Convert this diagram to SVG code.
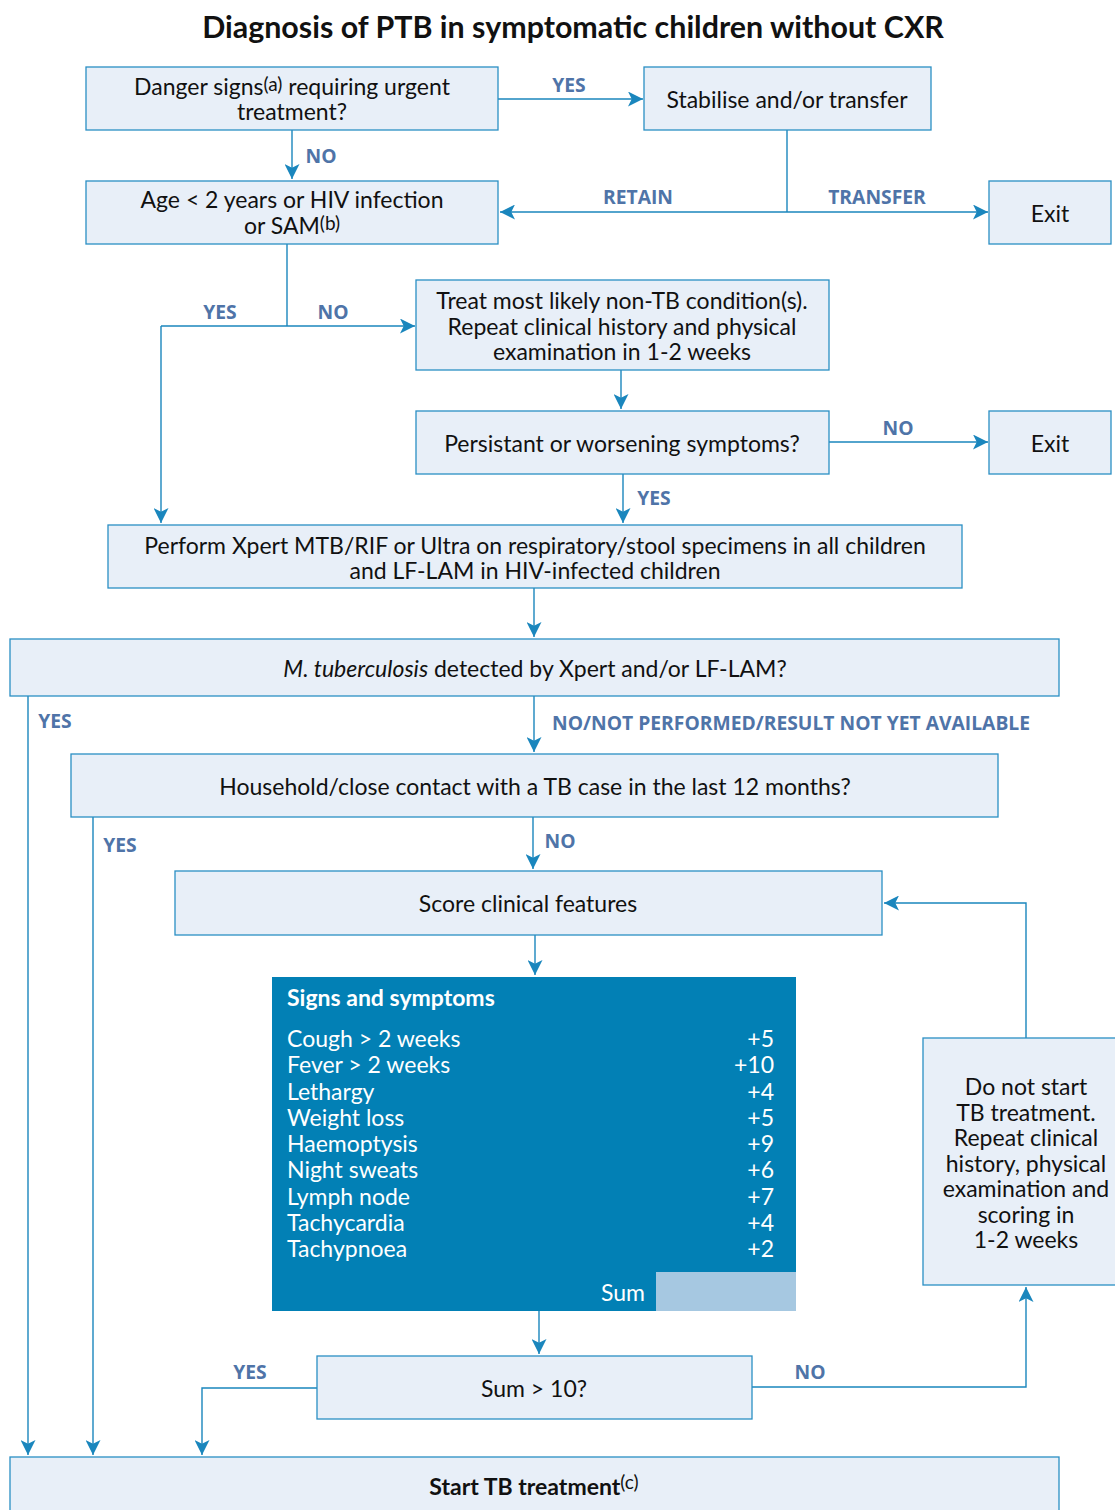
<svg xmlns="http://www.w3.org/2000/svg" width="1115" height="1510" viewBox="0 0 1115 1510">
  <defs>
    <marker id="arr" viewBox="0 0 10 10" refX="10" refY="5" markerWidth="15" markerHeight="15" markerUnits="userSpaceOnUse" orient="auto">
      <path d="M0,0 L10,5 L0,10 L2.5,5 Z" fill="#1a86bd"/>
    </marker>
    <style>
      .box { fill: #e8eff8; stroke: #2a8fc4; stroke-width: 1.3; }
      .t { font-family: Lato, "Open Sans", sans-serif; font-size: 23px; fill: #111; text-anchor: middle; }
      .lbl { font-family: "Open Sans", Lato, sans-serif; font-weight: bold; font-size: 19.3px; fill: #4f74a8; }
      .sup { font-size: 19px; }
      .w { font-family: Lato, "Open Sans", sans-serif; font-size: 23px; fill: #fff; }
      .c { fill: none; stroke: #1a86bd; stroke-width: 1.4; }
      .ca { fill: none; stroke: #1a86bd; stroke-width: 1.4; marker-end: url(#arr); }
    </style>
  </defs>
  <rect width="1115" height="1510" fill="#fff"/>

  <text x="573" y="38" font-family="Lato, 'Open Sans', sans-serif" font-weight="bold" font-size="30.4" text-anchor="middle" fill="#111">Diagnosis of PTB in symptomatic children without CXR</text>

  <!-- connectors -->
  <g id="connectors">
    <path class="ca" d="M498,99 H643"/>
    <path class="ca" d="M292,130 V179"/>
    <path class="c" d="M787,130 V212"/>
    <path class="ca" d="M787,212 H500"/>
    <path class="ca" d="M787,212 H988"/>
    <path class="c" d="M287,244 V326"/>
    <path class="ca" d="M161,326 H415"/>
    <path class="ca" d="M161,326 V523"/>
    <path class="ca" d="M621,370 V409"/>
    <path class="ca" d="M829,442 H988"/>
    <path class="ca" d="M623,474 V523"/>
    <path class="ca" d="M534,588 V637"/>
    <path class="ca" d="M28,696 V1455"/>
    <path class="ca" d="M534,696 V752"/>
    <path class="ca" d="M93,817 V1455"/>
    <path class="ca" d="M533,817 V869"/>
    <path class="ca" d="M535,935 V975"/>
    <path class="ca" d="M539,1311 V1354"/>
    <path class="ca" d="M317,1388 H202 V1455"/>
    <path class="ca" d="M752,1387 H1026 V1287"/>
    <path class="ca" d="M1026,1038 V903 H884"/>

    <text class="lbl" x="569" y="92" text-anchor="middle">YES</text>
    <text class="lbl" x="321" y="163" text-anchor="middle">NO</text>
    <text class="lbl" x="638" y="204" text-anchor="middle">RETAIN</text>
    <text class="lbl" x="877" y="204" text-anchor="middle">TRANSFER</text>
    <text class="lbl" x="220" y="319" text-anchor="middle">YES</text>
    <text class="lbl" x="333" y="319" text-anchor="middle">NO</text>
    <text class="lbl" x="898" y="435" text-anchor="middle">NO</text>
    <text class="lbl" x="654" y="505" text-anchor="middle">YES</text>
    <text class="lbl" x="55" y="728" text-anchor="middle">YES</text>
    <text class="lbl" x="552" y="730">NO/NOT PERFORMED/RESULT NOT YET AVAILABLE</text>
    <text class="lbl" x="120" y="852" text-anchor="middle">YES</text>
    <text class="lbl" x="560" y="848" text-anchor="middle">NO</text>
    <text class="lbl" x="250" y="1379" text-anchor="middle">YES</text>
    <text class="lbl" x="810" y="1379" text-anchor="middle">NO</text>
  </g>

  <!-- nodes -->
  <g id="danger">
    <rect class="box" x="86" y="67" width="412" height="63"/>
    <text class="t" x="292" y="95">Danger signs<tspan class="sup" dy="-4">(a)</tspan><tspan dy="4"> requiring urgent</tspan></text>
    <text class="t" x="292" y="120">treatment?</text>
  </g>
  <g id="stabilise">
    <rect class="box" x="644" y="67" width="287" height="63"/>
    <text class="t" x="787" y="108">Stabilise and/or transfer</text>
  </g>
  <g id="age">
    <rect class="box" x="86" y="181" width="412" height="63"/>
    <text class="t" x="292" y="208">Age &lt; 2 years or HIV infection</text>
    <text class="t" x="292" y="234">or SAM<tspan class="sup" dy="-4">(b)</tspan></text>
  </g>
  <g id="exit1">
    <rect class="box" x="989" y="181" width="122" height="63"/>
    <text class="t" x="1050" y="222">Exit</text>
  </g>
  <g id="treat">
    <rect class="box" x="416" y="280" width="413" height="90"/>
    <text class="t" x="622" y="309">Treat most likely non-TB condition(s).</text>
    <text class="t" x="622" y="335">Repeat clinical history and physical</text>
    <text class="t" x="622" y="360">examination in 1-2 weeks</text>
  </g>
  <g id="persist">
    <rect class="box" x="416" y="411" width="413" height="63"/>
    <text class="t" x="622" y="452">Persistant or worsening symptoms?</text>
  </g>
  <g id="exit2">
    <rect class="box" x="989" y="411" width="122" height="63"/>
    <text class="t" x="1050" y="452">Exit</text>
  </g>
  <g id="xpert">
    <rect class="box" x="108" y="525" width="854" height="63"/>
    <text class="t" x="535" y="554">Perform Xpert MTB/RIF or Ultra on respiratory/stool specimens in all children</text>
    <text class="t" x="535" y="579">and LF-LAM in HIV-infected children</text>
  </g>
  <g id="detected">
    <rect class="box" x="10" y="639" width="1049" height="57"/>
    <text class="t" x="535" y="677"><tspan font-style="italic">M. tuberculosis</tspan> detected by Xpert and/or LF-LAM?</text>
  </g>
  <g id="contact">
    <rect class="box" x="71" y="754" width="927" height="63"/>
    <text class="t" x="535" y="795">Household/close contact with a TB case in the last 12 months?</text>
  </g>
  <g id="score">
    <rect class="box" x="175" y="871" width="707" height="64"/>
    <text class="t" x="528" y="912">Score clinical features</text>
  </g>
  <g id="table">
    <rect x="272" y="977" width="524" height="334" fill="#0280b5"/>
    <rect x="656" y="1272" width="140" height="39" fill="#a6c8e1"/>
    <text class="w" x="287" y="1006" font-weight="bold">Signs and symptoms</text>
    <g>
      <text class="w" x="287" y="1047">Cough &gt; 2 weeks</text>
      <text class="w" x="287" y="1073">Fever &gt; 2 weeks</text>
      <text class="w" x="287" y="1100">Lethargy</text>
      <text class="w" x="287" y="1126">Weight loss</text>
      <text class="w" x="287" y="1152">Haemoptysis</text>
      <text class="w" x="287" y="1178">Night sweats</text>
      <text class="w" x="287" y="1205">Lymph node</text>
      <text class="w" x="287" y="1231">Tachycardia</text>
      <text class="w" x="287" y="1257">Tachypnoea</text>
    </g>
    <g text-anchor="end">
      <text class="w" x="774" y="1047">+5</text>
      <text class="w" x="774" y="1073">+10</text>
      <text class="w" x="774" y="1100">+4</text>
      <text class="w" x="774" y="1126">+5</text>
      <text class="w" x="774" y="1152">+9</text>
      <text class="w" x="774" y="1178">+6</text>
      <text class="w" x="774" y="1205">+7</text>
      <text class="w" x="774" y="1231">+4</text>
      <text class="w" x="774" y="1257">+2</text>
      <text class="w" x="645" y="1301">Sum</text>
    </g>
  </g>
  <g id="dontstart">
    <rect class="box" x="923" y="1038" width="195" height="247"/>
    <text class="t" x="1026" y="1095">Do not start</text>
    <text class="t" x="1026" y="1121">TB treatment.</text>
    <text class="t" x="1026" y="1146">Repeat clinical</text>
    <text class="t" x="1026" y="1172">history, physical</text>
    <text class="t" x="1026" y="1197">examination and</text>
    <text class="t" x="1026" y="1223">scoring in</text>
    <text class="t" x="1026" y="1248">1-2 weeks</text>
  </g>
  <g id="sum">
    <rect class="box" x="317" y="1356" width="435" height="63"/>
    <text class="t" x="534" y="1397">Sum &gt; 10?</text>
  </g>
  <g id="start">
    <rect class="box" x="10" y="1457" width="1049" height="60"/>
    <text class="t" x="534" y="1495" font-weight="bold">Start TB treatment<tspan class="sup" font-weight="normal" dy="-6">(c)</tspan></text>
  </g>
</svg>
